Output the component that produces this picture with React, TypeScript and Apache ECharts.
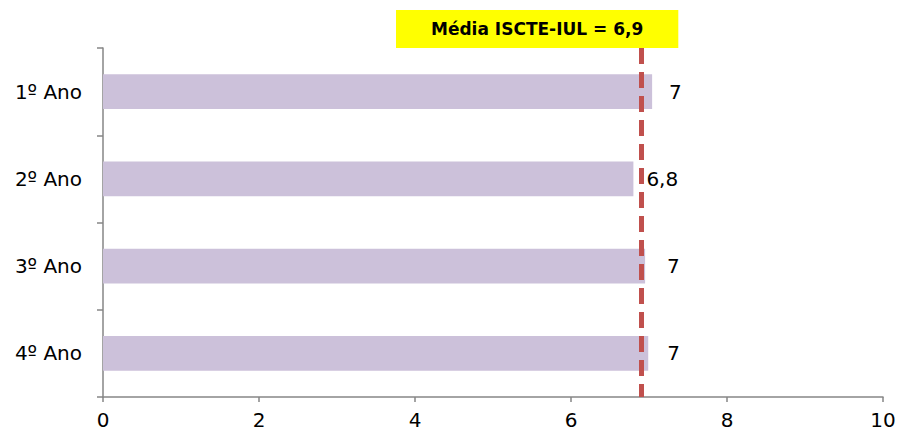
import React, { useEffect, useRef } from "react";
import * as echarts from "echarts";

const categories = ["1º Ano", "2º Ano", "3º Ano", "4º Ano"];
const values = [7.04, 6.8, 6.95, 6.99];
const valueLabels = ["7", "6,8", "7", "7"];
const labelDistances = [17, 13, 22, 19];
const meanValue = 6.9;
const meanLabel = "Média ISCTE-IUL = 6,9";
const xTicks = [0, 2, 4, 6, 8, 10];

export default function App() {
  const ref = useRef<HTMLDivElement>(null);
  useEffect(() => {
    if (!ref.current) return;
    const chart = echarts.init(ref.current, null, { renderer: "svg" });
    const font = "'DejaVu Sans', Verdana, sans-serif";
    chart.setOption({
      animation: false,
      textStyle: { fontFamily: font },
      title: {
        text: meanLabel,
        left: 396,
        top: 10,
        backgroundColor: "#ffff00",
        padding: [10, 35, 10, 35],
        textStyle: { fontFamily: font, fontWeight: "bold", fontSize: 17, color: "#000", lineHeight: 18 },
      },
      grid: { left: 103, right: 17, top: 48, bottom: 40, containLabel: false },
      xAxis: {
        type: "value",
        min: xTicks[0],
        max: xTicks[xTicks.length - 1],
        interval: 2,
        axisLine: { show: true, lineStyle: { color: "#868686", width: 1.5 } },
        axisTick: { show: true, length: 5, lineStyle: { color: "#868686", width: 1.5 } },
        splitLine: { show: false },
        axisLabel: { fontSize: 20, color: "#000", margin: 13, fontFamily: font },
      },
      yAxis: {
        type: "category",
        data: categories,
        inverse: true,
        axisLine: { show: true, lineStyle: { color: "#868686", width: 1.5 } },
        axisTick: { show: true, length: 6, lineStyle: { color: "#868686", width: 1.5 } },
        axisLabel: { fontSize: 20, color: "#000", margin: 21, fontFamily: font },
      },
      series: [
        {
          type: "bar",
          barWidth: "40%",
          itemStyle: { color: "#ccc1da" },
          data: values.map((v, i) => ({
            value: v,
            label: {
              show: true,
              position: "right",
              distance: labelDistances[i],
              formatter: valueLabels[i],
              fontSize: 20,
              color: "#000",
              fontFamily: font,
            },
          })),
          markLine: {
            silent: true,
            symbol: "none",
            label: { show: false },
            lineStyle: { color: "#c0504d", width: 5, type: [16, 8], cap: "butt" },
            data: [{ xAxis: meanValue }],
          },
        },
      ],
    });
    return () => chart.dispose();
  }, []);
  return <div ref={ref} style={{ position: "absolute", left: 0, top: 0, width: 900, height: 437 }} />;
}
